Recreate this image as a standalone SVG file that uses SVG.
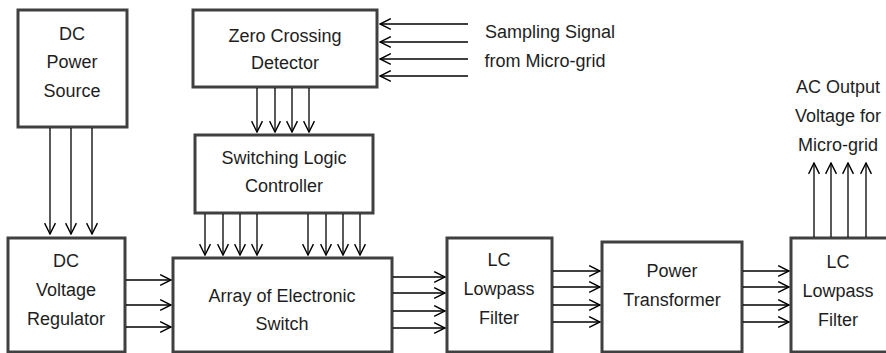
<svg xmlns="http://www.w3.org/2000/svg" width="886" height="353" viewBox="0 0 886 353">
<defs>
<marker id="ah" markerUnits="userSpaceOnUse" markerWidth="13" markerHeight="13" viewBox="0 0 12 12" refX="11" refY="6" orient="auto">
<path d="M1,1 L11,6 L1,11" fill="none" stroke="#000" stroke-width="1.3"/>
</marker>
<style>
.box{fill:#fff;stroke:#404040;stroke-width:3}
.t{font-family:"Liberation Sans",Arial,sans-serif;font-size:18px;fill:#1e1e1e;text-anchor:middle}
.c line{stroke:#000;stroke-width:1.3;marker-end:url(#ah)}
</style>
</defs>
<rect width="886" height="353" fill="#fff"/>
<g id="dc-power-source"><rect class="box" x="18" y="10" width="109" height="117"/>
<text class="t" x="72" y="40">DC</text><text class="t" x="72" y="68">Power</text><text class="t" x="72" y="97">Source</text></g>
<g id="zero-crossing"><rect class="box" x="193" y="10" width="184" height="77"/>
<text class="t" x="285" y="42">Zero Crossing</text><text class="t" x="285" y="69">Detector</text></g>
<g id="switching-logic"><rect class="box" x="195" y="135" width="178" height="78"/>
<text class="t" x="284" y="164">Switching Logic</text><text class="t" x="284" y="192">Controller</text></g>
<g id="dc-voltage-regulator"><rect class="box" x="8" y="238" width="117" height="114"/>
<text class="t" x="66" y="267">DC</text><text class="t" x="66" y="296">Voltage</text><text class="t" x="66" y="325">Regulator</text></g>
<g id="array-switch"><rect class="box" x="173" y="258" width="219" height="94"/>
<text class="t" x="282" y="302">Array of Electronic</text><text class="t" x="282" y="330">Switch</text></g>
<g id="lc-filter-1"><rect class="box" x="447" y="238" width="105" height="114"/>
<text class="t" x="499" y="266">LC</text><text class="t" x="499" y="295">Lowpass</text><text class="t" x="499" y="324">Filter</text></g>
<g id="power-transformer"><rect class="box" x="602" y="242" width="140" height="110"/>
<text class="t" x="672" y="277">Power</text><text class="t" x="672" y="306">Transformer</text></g>
<g id="lc-filter-2"><rect class="box" x="791" y="238" width="100" height="114"/>
<text class="t" x="838" y="268">LC</text><text class="t" x="838" y="297">Lowpass</text><text class="t" x="838" y="326">Filter</text></g>
<g id="labels">
<text class="t" x="550" y="38">Sampling Signal</text><text class="t" x="545" y="67">from Micro-grid</text>
<text class="t" x="838" y="93">AC Output</text><text class="t" x="838" y="122">Voltage for</text><text class="t" x="838" y="151">Micro-grid</text>
</g>
<g class="c" id="connectors">
<line x1="50" y1="128" x2="50" y2="234"/><line x1="71" y1="128" x2="71" y2="234"/><line x1="92" y1="128" x2="92" y2="234"/>
<line x1="468" y1="24" x2="380" y2="24"/><line x1="468" y1="42" x2="380" y2="42"/><line x1="468" y1="59" x2="380" y2="59"/><line x1="468" y1="76" x2="380" y2="76"/>
<line x1="257" y1="88" x2="257" y2="132"/><line x1="275" y1="88" x2="275" y2="132"/><line x1="292" y1="88" x2="292" y2="132"/><line x1="309" y1="88" x2="309" y2="132"/>
<line x1="205" y1="214" x2="205" y2="255"/><line x1="223" y1="214" x2="223" y2="255"/><line x1="240" y1="214" x2="240" y2="255"/><line x1="257" y1="214" x2="257" y2="255"/>
<line x1="308" y1="214" x2="308" y2="255"/><line x1="326" y1="214" x2="326" y2="255"/><line x1="343" y1="214" x2="343" y2="255"/><line x1="360" y1="214" x2="360" y2="255"/>
<line x1="126" y1="280" x2="171" y2="280"/><line x1="126" y1="305" x2="171" y2="305"/><line x1="126" y1="327" x2="171" y2="327"/>
<line x1="393" y1="277" x2="445" y2="277"/><line x1="393" y1="293" x2="445" y2="293"/><line x1="393" y1="311" x2="445" y2="311"/><line x1="393" y1="328" x2="445" y2="328"/>
<line x1="553" y1="271" x2="600" y2="271"/><line x1="553" y1="287" x2="600" y2="287"/><line x1="553" y1="305" x2="600" y2="305"/><line x1="553" y1="322" x2="600" y2="322"/>
<line x1="743" y1="271" x2="789" y2="271"/><line x1="743" y1="287" x2="789" y2="287"/><line x1="743" y1="305" x2="789" y2="305"/><line x1="743" y1="322" x2="789" y2="322"/>
<line x1="814" y1="237" x2="814" y2="163"/><line x1="831" y1="237" x2="831" y2="163"/><line x1="848" y1="237" x2="848" y2="163"/><line x1="866" y1="237" x2="866" y2="163"/>
</g>
</svg>
